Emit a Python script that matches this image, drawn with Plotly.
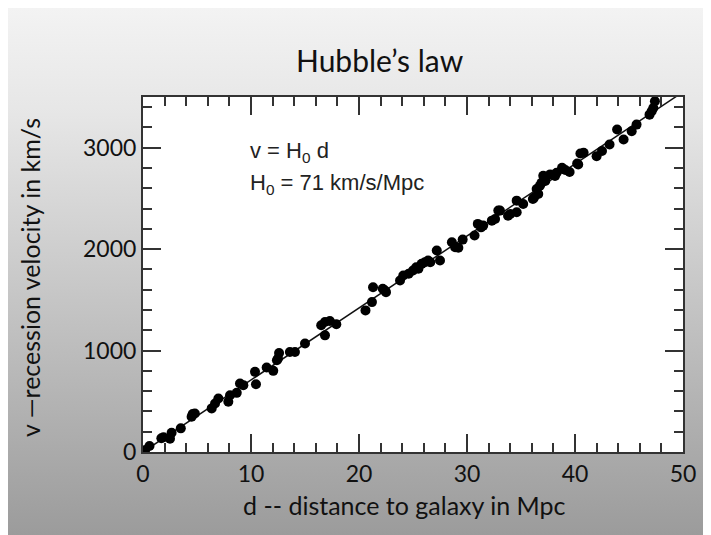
import base64
import plotly.graph_objects as go

# galaxy distances (Mpc) and recession velocities (km/s)
dist = [0.2, 0.6, 1.7, 1.9, 2.5, 2.65, 3.5, 4.5, 4.6, 4.8,
        6.36, 6.67, 6.98, 7.9, 8.06, 8.68, 8.98, 9.29, 10.37, 10.46,
        11.45, 12.06, 12.4, 12.5, 12.6, 13.6, 14.07, 15.0, 16.5, 16.85,
        17.3, 17.9, 16.85, 20.6, 21.2, 21.3, 22.2, 22.5, 22.4, 23.8,
        24.1, 24.6, 25.0, 25.3, 25.5, 25.8, 26.1, 26.4, 26.6, 27.2,
        27.5, 28.6, 28.9, 29.2, 29.6, 30.7, 31.0, 31.3, 31.5, 32.3,
        32.6, 32.9, 33.05, 33.8, 34.0, 34.6, 34.6, 35.2, 36.1, 36.2,
        36.45, 36.6, 36.75, 36.9, 37.06, 37.25, 37.7, 38.15, 38.3, 38.8,
        39.1, 39.5, 40.2, 40.3, 40.5, 40.8, 42.0, 42.5, 43.2, 43.9,
        44.5, 45.25, 45.7, 46.9, 47.1, 47.25, 47.4]
vel = [20, 59, 135, 145, 131, 190, 233, 347, 374, 380,
       430, 479, 528, 495, 560, 583, 675, 659, 790, 668,
       833, 800, 905, 921, 976, 986, 986, 1069, 1249, 1281,
       1291, 1259, 1150, 1396, 1478, 1625, 1610, 1576, 1593, 1691,
       1740, 1757, 1790, 1822, 1806, 1855, 1871, 1888, 1871, 1986,
       1888, 2068, 2019, 2013, 2094, 2134, 2249, 2215, 2232, 2281,
       2298, 2380, 2380, 2330, 2347, 2478, 2363, 2445, 2494, 2507,
       2593, 2544, 2625, 2655, 2724, 2672, 2737, 2721, 2753, 2802,
       2780, 2760, 2845, 2835, 2943, 2950, 2917, 2967, 3031, 3179,
       3081, 3163, 3228, 3326, 3360, 3392, 3458]

H0 = 71
fit_d = [0, 50]
fit_v = [H0 * d for d in fit_d]

W, H = 711, 535
L, R, T, B = 135, 36, 89, 91
pw, ph = W - L - R, H - T - B


def px(x):
    return (x - L) / pw


def py(y):
    return (H - B - y) / ph


# slide background: grey vertical gradient
svg = ('<svg xmlns="http://www.w3.org/2000/svg" width="100" height="100" preserveAspectRatio="none">'
       '<defs><linearGradient id="g" x1="0" y1="0" x2="0" y2="1">'
       '<stop offset="0" stop-color="#f3f3f3"/>'
       '<stop offset="0.2" stop-color="#e6e6e6"/>'
       '<stop offset="1" stop-color="#9a9a9a"/>'
       '</linearGradient></defs><rect width="100" height="100" fill="url(#g)"/></svg>')
src = "data:image/svg+xml;base64," + base64.b64encode(svg.encode()).decode()

fig = go.Figure()
fig.add_trace(go.Scatter(x=fit_d, y=fit_v, mode="lines",
                         line=dict(color="#111", width=1.5), hoverinfo="skip"))
fig.add_trace(go.Scatter(x=dist, y=vel, mode="markers",
                         marker=dict(color="#000", size=10, line=dict(width=0))))

fig.add_layout_image(dict(source=src, xref="paper", yref="paper",
                          x=px(0), y=py(0), sizex=W / pw, sizey=H / ph,
                          xanchor="left", yanchor="top", sizing="stretch", layer="below"))
fig.add_shape(type="rect", xref="x", yref="y", x0=0, x1=50, y0=0, y1=3500,
              fillcolor="white", line=dict(width=0), layer="below")

tickfont = dict(family="Lato", size=23, color="#111")
axis = dict(showline=True, linecolor="#333", linewidth=2, mirror="allticks",
            ticks="inside", ticklen=18, tickwidth=2, tickcolor="#333",
            showgrid=False, zeroline=False, tickfont=tickfont)

fig.update_xaxes(range=[0, 50], dtick=10,
                 minor=dict(ticks="inside", dtick=2, ticklen=9, tickwidth=2,
                            tickcolor="#333", showgrid=False), **axis)
fig.update_yaxes(range=[0, 3500], dtick=1000,
                 minor=dict(ticks="inside", dtick=200, ticklen=9, tickwidth=2,
                            tickcolor="#333", showgrid=False), **axis)

ann = dict(xref="paper", yref="paper", showarrow=False, xanchor="center", yanchor="middle")
fig.add_annotation(text="Hubble\u2019s law", x=px(372), y=py(52),
                   font=dict(family="Lato", size=30, color="#111"), **ann)
fig.add_annotation(text="d -- distance to galaxy in Mpc", x=px(396), y=py(497),
                   font=dict(family="Lato", size=25, color="#111"), **ann)
fig.add_annotation(text="v \u2014recession velocity in km/s", x=px(22), y=py(270),
                   textangle=-90, font=dict(family="Lato", size=25, color="#111"), **ann)

eqfont = dict(family="Liberation Sans", size=22, color="#222")
fig.add_annotation(text="v = H<sub>0</sub> d", xref="paper", yref="paper",
                   x=px(240), y=py(144), xanchor="left", yanchor="middle",
                   showarrow=False, font=eqfont)
fig.add_annotation(text="H<sub>0</sub> = 71 km/s/Mpc", xref="paper", yref="paper",
                   x=px(240), y=py(176), xanchor="left", yanchor="middle",
                   showarrow=False, font=eqfont)

fig.update_layout(width=W, height=H, margin=dict(l=L, r=R, t=T, b=B),
                  paper_bgcolor="white", plot_bgcolor="white", showlegend=False)

fig.write_html("out.html")
